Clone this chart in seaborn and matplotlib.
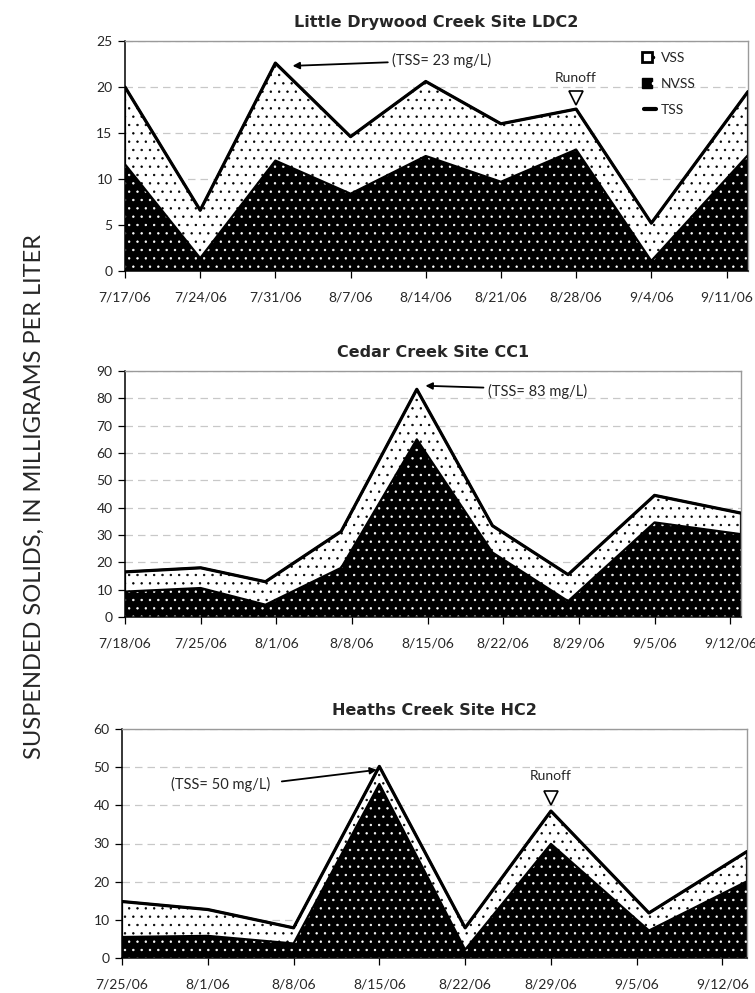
import matplotlib
matplotlib.use('Agg')
import matplotlib.pyplot as plt
import matplotlib.ticker as mticker
from matplotlib.lines import Line2D
from matplotlib.legend_handler import HandlerTuple
import seaborn as sns
import pandas as pd

sns.set_theme(style='white')
plt.rcParams['font.family'] = ['Lato', 'DejaVu Sans']
plt.rcParams['hatch.linewidth'] = 0.5

# ---------------- data ----------------
titles = ['Little Drywood Creek Site LDC2', 'Cedar Creek Site CC1', 'Heaths Creek Site HC2']

dates1 = ['2006-07-17', '2006-07-24', '2006-07-31', '2006-08-07', '2006-08-14',
          '2006-08-21', '2006-08-28', '2006-09-04', '2006-09-13']
tss1 = [20.0, 6.6, 22.6, 14.6, 20.6, 16.0, 17.6, 5.2, 19.5]
nvss1 = [11.6, 1.4, 12.0, 8.4, 12.5, 9.7, 13.2, 1.1, 12.6]

dates2 = ['2006-07-18', '2006-07-25', '2006-07-31', '2006-08-07', '2006-08-14',
          '2006-08-21', '2006-08-28', '2006-09-05', '2006-09-13']
tss2 = [16.5, 18.0, 12.9, 31.3, 83.3, 33.4, 15.5, 44.5, 38.0]
nvss2 = [9.3, 10.6, 4.5, 18.0, 65.0, 23.6, 5.8, 34.6, 30.3]

dates3 = ['2006-07-25', '2006-08-01', '2006-08-08', '2006-08-15', '2006-08-22',
          '2006-08-29', '2006-09-06', '2006-09-14']
tss3 = [14.8, 12.7, 7.9, 50.2, 7.9, 38.5, 11.8, 27.9]
nvss3 = [5.5, 5.8, 3.8, 45.6, 2.2, 29.9, 7.2, 20.1]

tick_start = ['2006-07-17', '2006-07-18', '2006-07-25']
tick_end = ['2006-09-11', '2006-09-12', '2006-09-12']
x_end = ['2006-09-13', '2006-09-13', '2006-09-14']
y_max = [25, 90, 60]
y_step = [5, 10, 10]

ts = pd.Timestamp
td = lambda d: pd.Timedelta(days=d)

# ---------------- figure ----------------
W, H = 755, 993
fig = plt.figure(figsize=(W / 100, H / 100), dpi=100)
# (left, right, top, bottom) in pixels
boxes = [(125, 748, 41, 271), (125, 741, 371, 617), (122, 747, 729, 958)]
rects = [[l / W, 1 - b / H, (r - l) / W, (b - t) / H] for l, r, t, b in boxes]

series = [(dates1, tss1, nvss1), (dates2, tss2, nvss2), (dates3, tss3, nvss3)]
axes = []
for i, (dts, tss, nvss) in enumerate(series):
    ax = fig.add_axes(rects[i])
    axes.append(ax)
    df = pd.DataFrame({'date': pd.to_datetime(dts), 'TSS': tss, 'NVSS': nvss})
    ax.fill_between(df['date'], 0, df['NVSS'], facecolor='black', edgecolor='white',
                    hatch='..', linewidth=0, zorder=2)
    ax.fill_between(df['date'], df['NVSS'], df['TSS'], facecolor='white', edgecolor='black',
                    hatch='..', linewidth=1.6, zorder=2)
    sns.lineplot(data=df, x='date', y='TSS', color='black', linewidth=2.3, ax=ax,
                 zorder=4, legend=False)

    ax.set_xlim(ts(dts[0]), ts(x_end[i]))
    ax.set_ylim(0, y_max[i])
    ticks = pd.date_range(tick_start[i], tick_end[i], freq='7D')
    ax.set_xticks(ticks)
    ax.set_xticklabels([f'{d.month}/{d.day}/{d:%y}' for d in ticks])
    ax.yaxis.set_major_locator(mticker.MultipleLocator(y_step[i]))
    ax.yaxis.grid(True, linestyle=(0, (6, 4)), color='#c8c8c8', linewidth=0.9)
    ax.set_axisbelow(True)
    ax.set_xlabel('')
    ax.set_ylabel('')
    ax.tick_params(axis='both', direction='out', length=5, width=0.9, color='black',
                   labelsize=10, bottom=True, left=True, pad=4)
    ax.tick_params(axis='x', pad=10)
    for s in ['left', 'bottom']:
        ax.spines[s].set_color('black')
        ax.spines[s].set_linewidth(1.1)
    for s in ['top', 'right']:
        ax.spines[s].set_color('#9a9a9a')
        ax.spines[s].set_linewidth(1.0)
    ax.set_title(titles[i], fontsize=11.5, family='DejaVu Sans', fontweight='bold', pad=10)

# ---------------- annotations ----------------
ax1, ax2, ax3 = axes
ax1.annotate('(TSS= 23 mg/L)', xy=(ts('2006-08-01') + td(0.6), 22.3),
             xytext=(ts('2006-08-10') + td(0.9), 22.9), ha='left', va='center', fontsize=10.5,
             arrowprops=dict(arrowstyle='-|>', color='black', lw=1.3, shrinkA=1, shrinkB=0,
                             mutation_scale=10), zorder=6)
ax1.plot([ts('2006-08-28')], [18.8], marker='v', ms=10, mfc='white', mec='black', mew=1.2,
         ls='none', zorder=6)
ax1.text(ts('2006-08-28'), 21.0, 'Runoff', ha='center', va='center', fontsize=10, zorder=6)

vss_h = (Line2D([], [], marker='s', ms=7, mfc='white', mec='black', mew=2, ls='none'),
         Line2D([], [], marker='o', ms=1.5, mfc='black', mec='black', ls='none'))
nvss_h = (Line2D([], [], marker='s', ms=7, mfc='black', mec='black', mew=1, ls='none'),
          Line2D([], [], marker='o', ms=1.5, mfc='white', mec='white', ls='none'))
tss_h = Line2D([], [], color='black', lw=3)
ax1.legend([vss_h, nvss_h, tss_h], ['VSS', 'NVSS', 'TSS'],
           handler_map={tuple: HandlerTuple(ndivide=None, pad=0)},
           loc='upper left', bbox_to_anchor=(0.815, 1.0), frameon=False, fontsize=10,
           handlelength=0.9, handletextpad=0.3, labelspacing=1.0, borderpad=0.3)

ax2.annotate('(TSS= 83 mg/L)', xy=(ts('2006-08-14') + td(0.8), 84.6),
             xytext=(ts('2006-08-20') + td(0.6), 82.5), ha='left', va='center', fontsize=10.5,
             arrowprops=dict(arrowstyle='-|>', color='black', lw=1.3, shrinkA=1, shrinkB=0,
                             mutation_scale=10, relpos=(0, 0.75)), zorder=6)

ax3.annotate('(TSS= 50 mg/L)', xy=(ts('2006-08-14') + td(0.8), 49.3),
             xytext=(ts('2006-07-29') + td(0.0), 45.5), ha='left', va='center', fontsize=10.5,
             arrowprops=dict(arrowstyle='-|>', color='black', lw=1.3, shrinkA=6, shrinkB=0,
                             mutation_scale=10, relpos=(1, 0.6)), zorder=6)
ax3.plot([ts('2006-08-29')], [42.0], marker='v', ms=10, mfc='white', mec='black', mew=1.2,
         ls='none', zorder=6)
ax3.text(ts('2006-08-29'), 47.7, 'Runoff', ha='center', va='center', fontsize=10, zorder=6)

fig.text(0.046, 0.50, 'SUSPENDED SOLIDS, IN MILLIGRAMS PER LITER', rotation=90,
         ha='center', va='center', fontsize=17)

fig.savefig('out.png', dpi=100)
